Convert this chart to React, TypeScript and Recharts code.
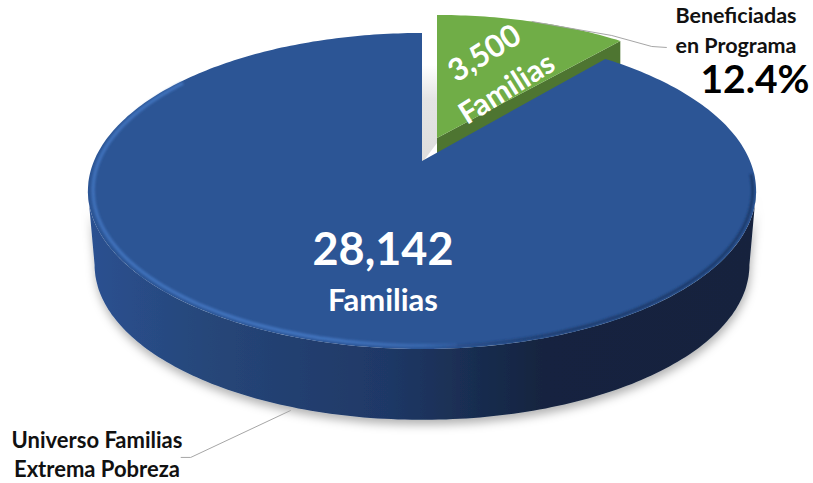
import { PieChart, Pie } from 'recharts';

const categories = ['Beneficiadas en Programa', 'Universo Familias Extrema Pobreza'];
const familias = [3500, 28142];
const unidad = 'Familias';
const etiquetaVerde = ['Beneficiadas', 'en Programa'];
const etiquetaAzul = ['Universo Familias', 'Extrema Pobreza'];

const chartData = categories.map((name, i) => ({ name, value: familias[i] }));

const W = 813;
const H = 483;
const CX = 422;
const CY = 191;
const R = 158;
const FONT = 'Lato, "Open Sans", sans-serif';

// fake 3D: the flat pie is pushed through a perspective tilt
const TILT = 0.19;
const STRETCH = 2.076;
const DEPTH = 74; // bottom rim offset
const BOTTOM_SCALE = 0.98;
const EXPLODE = { x: 15, y: -18 };

function project(angle: number, r = 1) {
  const rad = (angle * Math.PI) / 180;
  const ux = Math.cos(rad) * r;
  const uy = -Math.sin(rad) * r;
  const w = 1 - TILT * uy;
  return { x: CX + (R * STRETCH * ux) / w, y: CY + (R * uy - R * TILT) / w };
}

function lower(p: { x: number; y: number }) {
  return { x: CX + (p.x - CX) * BOTTOM_SCALE, y: CY + DEPTH + (p.y - CY) * BOTTOM_SCALE };
}

function arc(from: number, to: number, r = 1) {
  const pts = [];
  const steps = Math.max(2, Math.ceil(Math.abs(to - from)));
  for (let i = 0; i <= steps; i++) pts.push(project(from + ((to - from) * i) / steps, r));
  return pts;
}

const toPath = (pts: { x: number; y: number }[], close = true) =>
  pts.map((p, i) => `${i ? 'L' : 'M'}${p.x.toFixed(1)},${p.y.toFixed(1)}`).join(' ') + (close ? ' Z' : '');

const pct = ((familias[0] / familias[1]) * 100).toFixed(1) + '%';
const fmt = (v: number) => v.toLocaleString('en-US');

function Defs() {
  return (
    <defs>
      <linearGradient id="wallBlue" gradientUnits="userSpaceOnUse" x1={CX - 334} y1="0" x2={CX + 334} y2="0">
        <stop offset="0" stopColor="#2b5191" />
        <stop offset="0.18" stopColor="#264679" />
        <stop offset="0.45" stopColor="#1f3866" />
        <stop offset="0.68" stopColor="#14243f" />
        <stop offset="1" stopColor="#13233e" />
      </linearGradient>
      <linearGradient id="rimLight" gradientUnits="userSpaceOnUse" x1={CX - 334} y1="0" x2={CX + 60} y2="0">
        <stop offset="0" stopColor="#4173bd" stopOpacity="0.9" />
        <stop offset="0.6" stopColor="#4173bd" stopOpacity="1" />
        <stop offset="0.85" stopColor="#4173bd" stopOpacity="0.6" />
        <stop offset="1" stopColor="#4173bd" stopOpacity="0" />
      </linearGradient>
      <linearGradient id="rimDark" gradientUnits="userSpaceOnUse" x1={CX} y1="0" x2={CX + 334} y2="0">
        <stop offset="0" stopColor="#1d3a6b" stopOpacity="0" />
        <stop offset="0.4" stopColor="#1d3a6b" stopOpacity="0.9" />
        <stop offset="1" stopColor="#1d3a6b" stopOpacity="1" />
      </linearGradient>
      <linearGradient id="gapShadow" x1="0" y1="0" x2="0" y2="1">
        <stop offset="0" stopColor="#ffffff" />
        <stop offset="0.35" stopColor="#e4e4e4" />
        <stop offset="1" stopColor="#dddddd" />
      </linearGradient>
      <filter id="soft" x="-10%" y="-10%" width="120%" height="120%">
        <feGaussianBlur stdDeviation="1.2" />
      </filter>
      <filter id="dropWall" x="-10%" y="-30%" width="120%" height="170%">
        <feDropShadow dx="1" dy="5" stdDeviation="5" floodColor="#000000" floodOpacity="0.3" />
      </filter>
    </defs>
  );
}

function Slice(props: any) {
  const { startAngle, endAngle, name, payload } = props;
  const mid = (startAngle + endAngle) / 2;
  const isGreen = name === categories[0];
  const apex = { x: CX, y: CY - R * TILT };

  if (isGreen) {
    const top = arc(startAngle, endAngle);
    const corner = top[top.length - 1];
    const gapTop = top[0].y + 50;
    const lead = project(mid);
    const greenApex = { x: apex.x, y: apex.y - 5 };
    return (
      <g>
        <Defs />
        <g transform={`translate(${EXPLODE.x},${EXPLODE.y})`}>
          {/* shadow in the gap left of the slice */}
          <path
            d={toPath([
              { x: apex.x - EXPLODE.x, y: gapTop },
              { x: apex.x, y: gapTop },
              { x: apex.x, y: apex.y },
              { x: apex.x - EXPLODE.x, y: apex.y - EXPLODE.y + 2 },
            ])}
            fill="url(#gapShadow)"
          />
          {/* radial wall, the blue slice covers most of it */}
          <path
            d={toPath([greenApex, corner, { x: corner.x, y: corner.y + DEPTH }, { x: apex.x, y: apex.y + DEPTH }])}
            fill="#4e7531"
          />
          <path d={toPath([greenApex, ...top])} fill="#70ad47" />
          <polyline
            points={`${lead.x},${lead.y} ${lead.x + 80},${lead.y + 14} ${lead.x + 120},${lead.y + 25} ${lead.x + 135},${lead.y + 26}`}
            fill="none"
            stroke="#a6a6a6"
            strokeWidth="1"
          />
        </g>
        <text
          transform="translate(490,62) rotate(-32)"
          textAnchor="middle"
          fontFamily={FONT}
          fontWeight={700}
          fontSize={31}
          fill="#ffffff"
        >
          {fmt(payload?.value ?? familias[0])}
        </text>
        <text
          transform="translate(512,97) rotate(-32)"
          textAnchor="middle"
          fontFamily={FONT}
          fontWeight={700}
          fontSize={30}
          fill="#ffffff"
        >
          {unidad}
        </text>
      </g>
    );
  }

  const top = arc(startAngle, endAngle);
  // visible front wall runs between the two widest points of the ellipse
  const limit = (Math.asin(TILT) * 180) / Math.PI;
  const front = arc(-limit, -180 + limit);
  const wall = [...front, ...front.map(lower).reverse()];
  const lead = lower(project(mid));
  return (
    <g>
      <path d={toPath(wall)} fill="url(#wallBlue)" filter="url(#dropWall)" />
      <path d={toPath([apex, ...top])} fill="#2c5595" />
      <path d={toPath(arc(-5, -95, 0.99), false)} fill="none" stroke="url(#rimDark)" strokeWidth="3" filter="url(#soft)" />
      <path d={toPath(arc(-85, -215, 0.985), false)} fill="none" stroke="url(#rimLight)" strokeWidth="3.5" filter="url(#soft)" />
      <polyline
        points={`${lead.x + 2},${lead.y + 4} ${lead.x - 98},${lead.y + 51} ${lead.x - 108},${lead.y + 51}`}
        fill="none"
        stroke="#a6a6a6"
        strokeWidth="1"
      />
      <text x={383} y={265} textAnchor="middle" fontFamily={FONT} fontWeight={700} fontSize={45} fill="#ffffff">
        {fmt(payload?.value ?? familias[1])}
      </text>
      <text x={383} y={311} textAnchor="middle" fontFamily={FONT} fontWeight={700} fontSize={31} fill="#ffffff">
        {unidad}
      </text>
    </g>
  );
}

export default function App() {
  return (
    <div style={{ position: 'absolute', left: 0, top: 0, width: W, height: H, background: '#fff' }}>
      <PieChart width={W} height={H} margin={{ top: 0, right: 0, bottom: 0, left: 0 }}>
        <Pie
          data={chartData}
          dataKey="value"
          nameKey="name"
          cx={CX}
          cy={CY}
          outerRadius={R}
          startAngle={90}
          endAngle={-270}
          stroke="none"
          shape={Slice}
          isAnimationActive={false}
        />
        {etiquetaVerde.map((t, i) => (
          <text key={t} x={736} y={23 + i * 30} textAnchor="middle" fontFamily={FONT} fontWeight={700} fontSize={21.5} fill="#111">
            {t}
          </text>
        ))}
        <text x={755} y={93} textAnchor="middle" fontFamily={FONT} fontWeight={700} fontSize={39} fill="#000">
          {pct}
        </text>
        {etiquetaAzul.map((t, i) => (
          <text key={t} x={97} y={448 + i * 29} textAnchor="middle" fontFamily={FONT} fontWeight={700} fontSize={22} fill="#111">
            {t}
          </text>
        ))}
      </PieChart>
    </div>
  );
}
